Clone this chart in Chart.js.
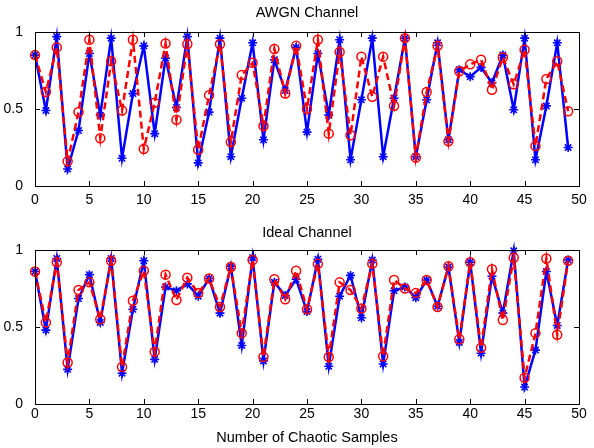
<!DOCTYPE html>
<html>
<head>
<meta charset="utf-8">
<script src="https://cdn.jsdelivr.net/npm/chart.js@4.4.0/dist/chart.umd.min.js"></script>
<style>
  html, body { margin: 0; padding: 0; background: #fff; }
  .plot { position: absolute; left: 0; width: 594px; height: 224px; }
</style>
</head>
<body>
<div class="plot" style="top:0"><canvas id="awgn"></canvas></div>
<div class="plot" style="top:224px"><canvas id="ideal"></canvas></div>
<script>
const samples = [0,1,2,3,4,5,6,7,8,9,10,11,12,13,14,15,16,17,18,19,20,21,22,23,24,
                 25,26,27,28,29,30,31,32,33,34,35,36,37,38,39,40,41,42,43,44,45,46,47,48,49];
const xTicks = [0, 5, 10, 15, 20, 25, 30, 35, 40, 45, 50];
const yTicks = [0, 0.5, 1];

// AWGN channel
const awgnSent = [0.85,0.49,0.97,0.11,0.36,0.86,0.46,0.96,0.18,0.60,0.91,0.34,0.83,0.51,0.97,0.15,0.48,0.96,0.19,0.57,
                  0.93,0.30,0.82,0.62,0.90,0.35,0.86,0.46,0.95,0.17,0.56,0.96,0.19,0.57,0.96,0.19,0.56,0.93,0.30,0.755,
                  0.71,0.77,0.67,0.85,0.495,0.96,0.17,0.52,0.93,0.25];
const awgnRecv = [0.85,0.61,0.90,0.16,0.48,0.95,0.31,0.81,0.49,0.95,0.24,0.54,0.925,0.43,0.92,0.235,0.59,0.92,0.285,0.72,
                  0.80,0.39,0.89,0.60,0.91,0.50,0.95,0.34,0.87,0.33,0.84,0.58,0.84,0.52,0.96,0.185,0.61,0.91,0.29,0.745,
                  0.79,0.82,0.625,0.835,0.66,0.885,0.26,0.695,0.81,0.485];

// Ideal channel
const idealSent = [0.86,0.48,0.945,0.225,0.685,0.84,0.53,0.945,0.20,0.615,0.93,0.29,0.76,0.735,0.78,0.70,0.815,0.59,0.895,0.38,
                   0.95,0.28,0.79,0.705,0.81,0.60,0.94,0.245,0.70,0.835,0.56,0.935,0.26,0.735,0.76,0.69,0.805,0.635,0.89,0.40,
                   0.92,0.33,0.83,0.59,0.995,0.11,0.35,0.86,0.51,0.935];
const idealRecv = [0.86,0.53,0.92,0.27,0.74,0.79,0.55,0.93,0.24,0.67,0.865,0.34,0.84,0.675,0.82,0.72,0.815,0.63,0.89,0.46,
                   0.935,0.305,0.81,0.68,0.865,0.615,0.91,0.305,0.79,0.74,0.62,0.91,0.31,0.805,0.75,0.72,0.805,0.63,0.895,0.42,
                   0.92,0.365,0.875,0.545,0.95,0.17,0.46,0.945,0.45,0.93];

const FONT = 'Liberation Sans, Arial, Helvetica, sans-serif';

// box around the axes with inward ticks on all four sides
const matlabAxes = {
    id: 'matlabAxes',
    afterDatasetsDraw(chart) {
        const { ctx, chartArea: a, scales: { x, y } } = chart;
        const len = 5;
        ctx.save();
        ctx.strokeStyle = '#000';
        ctx.lineWidth = 1;
        ctx.beginPath();
        xTicks.forEach(v => {
            const px = Math.round(x.getPixelForValue(v)) + 0.5;
            ctx.moveTo(px, a.bottom); ctx.lineTo(px, a.bottom - len);
            ctx.moveTo(px, a.top); ctx.lineTo(px, a.top + len);
        });
        yTicks.forEach(v => {
            const py = Math.round(y.getPixelForValue(v)) + 0.5;
            ctx.moveTo(a.left, py); ctx.lineTo(a.left + len, py);
            ctx.moveTo(a.right, py); ctx.lineTo(a.right - len, py);
        });
        ctx.stroke();
        ctx.strokeRect(Math.round(a.left) + 0.5, Math.round(a.top) + 0.5,
                       Math.round(a.right - a.left), Math.round(a.bottom - a.top));
        ctx.restore();
    }
};

function makePlot(id, title, sent, recv, opts) {
    const ctx = document.getElementById(id).getContext('2d');
    return new Chart(ctx, {
        type: 'line',
        data: {
            datasets: [{
                data: samples.map((s, i) => ({ x: s, y: sent[i] })),
                borderColor: '#0000ff',
                backgroundColor: '#0000ff',
                borderWidth: 2.5,
                pointStyle: 'star',
                pointRadius: 4.5,
                pointBorderWidth: 1.6,
                pointBorderColor: '#0000ff',
                tension: 0,
                clip: 10,
                order: 2
            }, {
                data: samples.map((s, i) => ({ x: s, y: recv[i] })),
                borderColor: '#ff0000',
                backgroundColor: 'transparent',
                borderWidth: 2.5,
                borderDash: [7, 4],
                pointStyle: 'circle',
                pointRadius: 4.5,
                pointBorderWidth: 1.5,
                pointBorderColor: '#ff0000',
                pointBackgroundColor: 'transparent',
                tension: 0,
                clip: 10,
                order: 1
            }]
        },
        options: {
            responsive: true,
            maintainAspectRatio: false,
            animation: false,
            events: [],
            layout: { padding: { left: 0, right: 15, top: 0, bottom: 0 } },
            plugins: {
                legend: { display: false },
                tooltip: { enabled: false },
                title: {
                    display: true,
                    fullSize: false,
                    text: title,
                    color: '#000',
                    font: { family: FONT, size: 14.5, weight: 'normal' },
                    padding: opts.titlePad
                }
            },
            scales: {
                x: {
                    type: 'linear',
                    min: 0,
                    max: 50,
                    afterBuildTicks: s => { s.ticks = xTicks.map(v => ({ value: v })); },
                    afterFit: s => { s.height = opts.xHeight; },
                    grid: { display: false },
                    border: { display: false },
                    ticks: { color: '#000', padding: opts.xTickPad, maxRotation: 0,
                             font: { family: FONT, size: 14 } },
                    title: opts.xTitle ? {
                        display: true,
                        text: opts.xTitle,
                        color: '#000',
                        font: { family: FONT, size: 14.5 },
                        padding: { top: 1, bottom: 1.3 }
                    } : { display: false }
                },
                y: {
                    min: 0,
                    max: 1,
                    afterBuildTicks: s => { s.ticks = yTicks.map(v => ({ value: v })); },
                    afterFit: s => { s.width = 35; },
                    grid: { display: false },
                    border: { display: false },
                    ticks: { color: '#000', padding: 4,
                             font: { family: FONT, size: 14 },
                             callback: v => String(v) }
                }
            }
        },
        plugins: [matlabAxes]
    });
}

makePlot('awgn', 'AWGN Channel', awgnSent, awgnRecv,
         { titlePad: { top: 4.3, bottom: 10.3 }, xHeight: 38, xTickPad: -2 });
makePlot('ideal', 'Ideal Channel', idealSent, idealRecv,
         { titlePad: { top: 0.3, bottom: 8.3 }, xHeight: 44, xTickPad: -6,
           xTitle: 'Number of Chaotic Samples' });
</script>
</body>
</html>
